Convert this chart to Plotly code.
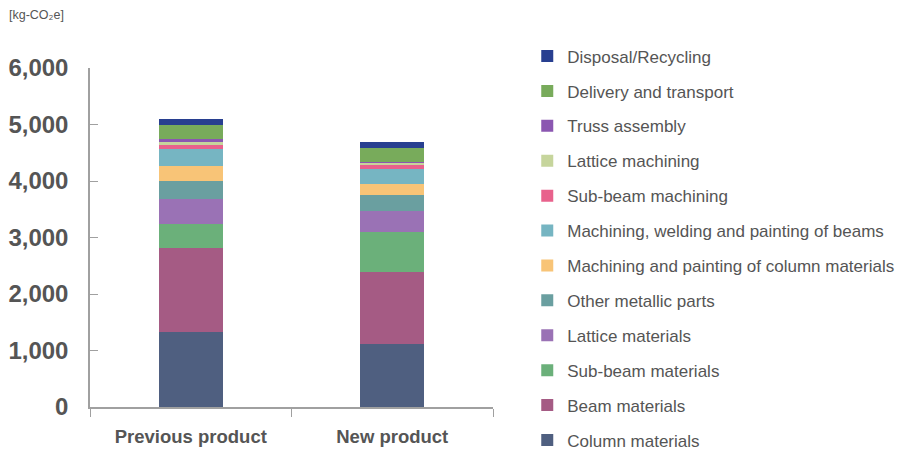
import plotly.graph_objects as go

categories = ["Previous product", "New product"]
series_names = [
    "Column materials",
    "Beam materials",
    "Sub-beam materials",
    "Lattice materials",
    "Other metallic parts",
    "Machining and painting of column materials",
    "Machining, welding and painting of beams",
    "Sub-beam machining",
    "Lattice machining",
    "Truss assembly",
    "Delivery and transport",
    "Disposal/Recycling",
]
previous_values = [1330, 1490, 415, 455, 310, 265, 295, 85, 45, 45, 260, 105]
new_values = [1120, 1265, 710, 370, 280, 195, 280, 76, 30, 12, 255, 100]
colors = [
    "#4f5f80", "#a55b84", "#6bb07a", "#9a72b5", "#6a9fa0", "#f8c477",
    "#76b5c2", "#e8628c", "#c6d59c", "#8b57b1", "#78ab5b", "#283f90",
]
y_ticks = [0, 1000, 2000, 3000, 4000, 5000, 6000]
y_tick_labels = ["0", "1,000", "2,000", "3,000", "4,000", "5,000", "6,000"]

FONT = "Liberation Sans, Arial, sans-serif"

fig = go.Figure()
n = len(series_names)
for i, name in enumerate(series_names):
    fig.add_trace(go.Bar(
        x=categories,
        y=[previous_values[i], new_values[i]],
        name=name,
        marker=dict(color=colors[i], line=dict(width=0)),
        width=0.32,
        legendgroup=name,
        legendrank=n - i,
    ))

fig.update_layout(
    barmode="stack",
    width=909, height=451,
    margin=dict(l=90, r=416, t=68, b=44, autoexpand=False),
    paper_bgcolor="white",
    plot_bgcolor="white",
    font=dict(family=FONT, color="#555555"),
    showlegend=True,
    legend=dict(
        traceorder="grouped",
        tracegroupgap=9.8,
        font=dict(size=17, color="#555555", family=FONT),
        x=1.085, xanchor="left",
        y=1.087, yanchor="top",
        bgcolor="rgba(0,0,0,0)",
        itemclick=False,
        maxheight=1,
    ),
    xaxis=dict(
        showline=True, linecolor="#a0a0a0", linewidth=1.5,
        ticks="outside", tickson="boundaries", ticklen=8, tickcolor="#a0a0a0",
        tickfont=dict(size=18.5, color="#555555", family=FONT, weight="bold"),
        showgrid=False,
        ticklabelstandoff=12,
        automargin=False,
    ),
    yaxis=dict(
        range=[0, 6000],
        tickvals=y_ticks, ticktext=y_tick_labels,
        showline=True, linecolor="#a0a0a0", linewidth=1.5,
        ticks="inside", ticklen=8, tickcolor="#a0a0a0",
        tickfont=dict(size=24, color="#555555", family=FONT, weight="bold"),
        showgrid=False, zeroline=False,
        ticklabelstandoff=15,
        automargin=False,
    ),
    annotations=[dict(
        text="[kg-CO₂e]", xref="paper", yref="paper",
        x=-0.207, y=1.155, xanchor="left", yanchor="middle",
        showarrow=False, font=dict(size=12.5, color="#555555", family=FONT),
    )],
)

fig.write_html(
    "out.html",
    config={"displayModeBar": False},
    post_script="document.body.style.margin='0';document.body.style.overflow='hidden';",
)
